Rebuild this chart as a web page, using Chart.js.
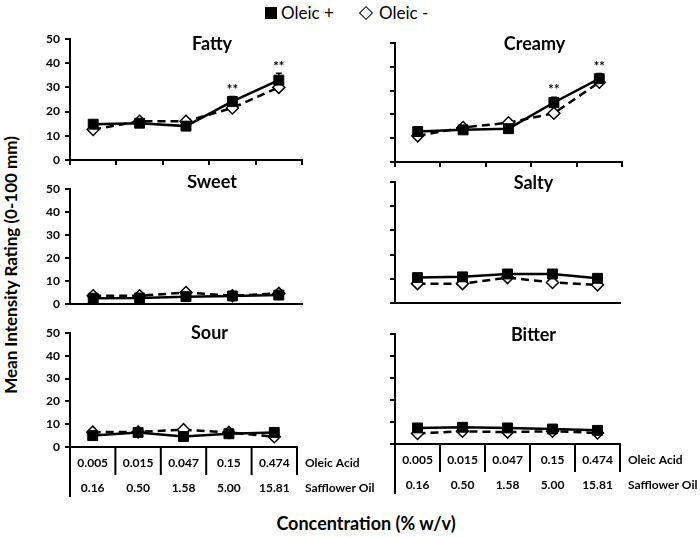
<!DOCTYPE html>
<html><head><meta charset="utf-8">
<script src="https://cdn.jsdelivr.net/npm/chart.js@4.4.1/dist/chart.umd.min.js"></script>
<style>
html,body{margin:0;padding:0;background:#fff;}
body{width:700px;height:538px;position:relative;overflow:hidden;font-family:Lato,"Open Sans",sans-serif;color:#000;}
canvas{position:absolute;}
.t{position:absolute;white-space:nowrap;color:#000;line-height:1;}
</style></head><body>
<div style="position:absolute;left:265px;top:7px;width:12px;height:12px;background:#000;"></div>
<div class="t" style="left:281px;top:4px;font-size:17px;">Oleic +</div>
<div style="position:absolute;left:361px;top:8px;width:8px;height:8px;border:1.5px solid #000;background:#fff;transform:rotate(45deg);"></div>
<div class="t" style="left:379px;top:4px;font-size:17px;">Oleic -</div>
<div class="t" style="left:10px;top:265px;font-size:17px;font-weight:bold;transform:translate(-50%,-50%) rotate(-90deg);">Mean Intensity Rating (0-100 mm)</div>
<div class="t" style="left:366px;top:523px;font-size:18px;font-weight:bold;transform:translate(-50%,-50%);">Concentration (% w/v)</div>
<script>
// ---- data ----
const oleicAcid = ['0.005', '0.015', '0.047', '0.15', '0.474'];
const safflowerOil = ['0.16', '0.50', '1.58', '5.00', '15.81'];
const rowLabels = ['Oleic Acid', 'Safflower Oil'];
const panelTitles = ['Fatty', 'Creamy', 'Sweet', 'Salty', 'Sour', 'Bitter'];
const seriesNames = ['Oleic +', 'Oleic -'];

const fattyPlus   = [14.8, 15.2, 14.0, 24.2, 33.0];
const fattyMinus  = [12.6, 16.0, 16.0, 21.5, 30.0];
const creamyPlus  = [12.8, 13.5, 14.0, 25.0, 35.0];
const creamyMinus = [11.0, 14.5, 16.5, 20.5, 33.5];
const sweetPlus   = [2.5, 2.6, 3.2, 3.5, 3.9];
const sweetMinus  = [3.6, 3.6, 5.0, 3.6, 4.6];
const saltyPlus   = [10.5, 10.8, 12.0, 12.0, 10.2];
const saltyMinus  = [8.0, 8.0, 10.5, 8.5, 7.5];
const sourPlus    = [5.0, 6.4, 4.6, 5.8, 6.4];
const sourMinus   = [6.5, 6.6, 7.6, 6.4, 4.5];
const bitterPlus  = [7.3, 7.6, 7.3, 6.8, 6.2];
const bitterMinus = [4.8, 5.8, 5.4, 5.8, 5.0];

const fattyErr  = [1.2, 1.2, 1.2, 2.0, 2.8];
const creamyErr = [1.2, 1.2, 1.2, 2.2, 2.2];
const smallErr  = [0.8, 0.8, 0.8, 0.8, 0.8];

const fattySig  = ['', '', '', '**', '**'];
const creamySig = ['', '', '', '**', '**'];
const noSig     = ['', '', '', '', ''];

const yMin = 0, yMax = 50, yStep = 10;

// ---- layout (page coordinates of each plot area) ----
const plusSets  = [fattyPlus, creamyPlus, sweetPlus, saltyPlus, sourPlus, bitterPlus];
const minusSets = [fattyMinus, creamyMinus, sweetMinus, saltyMinus, sourMinus, bitterMinus];
const errSets   = [fattyErr, creamyErr, smallErr, smallErr, smallErr, smallErr];
const sigSets   = [fattySig, creamySig, noSig, noSig, noSig, noSig];

const boxes = [
  {l:70,  r:302, t:39,  b:160, row:0, ty:44},
  {l:395, r:622, t:43,  b:162, row:0, ty:44},
  {l:70,  r:302, t:189, b:304, row:1, ty:182},
  {l:395, r:620, t:182, b:303, row:1, ty:183},
  {l:70,  r:297, t:333, b:447, row:2, ty:333},
  {l:395, r:620, t:334, b:444, row:2, ty:335}
];

Chart.defaults.color = '#000';
Chart.defaults.font.family = 'Lato, "Open Sans", sans-serif';

const panelPlugin = {
  id: 'panelPlugin',
  beforeDatasetsDraw(chart) {
    const o = chart.options.plugins.panelPlugin;
    const ctx = chart.ctx, xs = chart.scales.x, ys = chart.scales.y;
    ctx.save();
    ctx.strokeStyle = '#000'; ctx.lineWidth = 1.5;
    o.plus.forEach((v, i) => {
      const px = xs.getPixelForValue(i);
      const y1 = ys.getPixelForValue(v + o.err[i]);
      const y2 = ys.getPixelForValue(v - o.err[i]);
      ctx.beginPath();
      ctx.moveTo(px, y1); ctx.lineTo(px, y2);
      ctx.moveTo(px - 3, y1); ctx.lineTo(px + 3, y1);
      ctx.stroke();
    });
    ctx.restore();
  },
  afterDraw(chart) {
    const o = chart.options.plugins.panelPlugin;
    const ctx = chart.ctx, xs = chart.scales.x, ys = chart.scales.y;
    const ca = chart.chartArea;
    ctx.save();
    ctx.fillStyle = '#000';
    ctx.font = 'bold 18px Lato, "Open Sans", sans-serif';
    ctx.textAlign = 'center'; ctx.textBaseline = 'middle';
    ctx.fillText(o.title, (ca.left + ca.right) / 2 + 26, o.titleY);
    ctx.font = 'bold 13px Lato, "Open Sans", sans-serif';
    o.sig.forEach((s, i) => {
      if (!s) return;
      const px = xs.getPixelForValue(i);
      const py = ys.getPixelForValue(o.plus[i] + o.err[i]) - 7;
      ctx.fillText(s, px, py);
    });
    if (o.table) {
      const y0 = xs.top;
      ctx.strokeStyle = '#000'; ctx.lineWidth = 2;
      ctx.beginPath();
      ctx.moveTo(xs.getPixelForValue(-0.5), y0);
      ctx.lineTo(xs.getPixelForValue(-0.5), y0 + 50);
      for (let i = 1; i <= oleicAcid.length; i++) {
        const px = xs.getPixelForValue(i - 0.5);
        ctx.moveTo(px, y0); ctx.lineTo(px, y0 + 28);
      }
      ctx.stroke();
      ctx.font = 'bold 12px Lato, "Open Sans", sans-serif';
      ctx.textAlign = 'left';
      ctx.fillText(rowLabels[0], xs.right + 8, y0 + 16);
      ctx.fillText(rowLabels[1], xs.right + 8, y0 + 41);
    }
    ctx.restore();
  }
};

boxes.forEach((bx, k) => {
  const yW = 50;
  const xH = bx.row === 2 ? 62 : 16;
  const padTop = 14;
  const cLeft = bx.l - yW;
  const cRight = bx.l < 350 ? 395 : 700;
  const cTop = bx.t - padTop;
  const cH = bx.b + xH - cTop;
  const cv = document.createElement('canvas');
  cv.width = cRight - cLeft; cv.height = cH;
  cv.style.left = cLeft + 'px'; cv.style.top = cTop + 'px';
  cv.style.width = (cRight - cLeft) + 'px'; cv.style.height = cH + 'px';
  document.body.appendChild(cv);
  const isLeft = bx.l < 350;
  const labels = oleicAcid.map((o, i) => [o, safflowerOil[i]]);
  new Chart(cv, {
    type: 'line',
    data: {
      labels: labels,
      datasets: [
        { label: seriesNames[0], data: plusSets[k], borderColor: '#000', backgroundColor: '#000',
          borderWidth: 2.5, pointStyle: 'rect', pointRadius: 7, pointBorderWidth: 1, tension: 0 },
        { label: seriesNames[1], data: minusSets[k], borderColor: '#000', backgroundColor: '#fff',
          borderWidth: 2.5, borderDash: [8, 5], pointStyle: 'rectRot', pointRadius: 6,
          pointBorderWidth: 1.5, tension: 0 }
      ]
    },
    options: {
      responsive: false, animation: false, devicePixelRatio: 1,
      layout: { padding: { top: padTop, right: cRight - bx.r, left: 0, bottom: 0 } },
      plugins: {
        legend: { display: false }, tooltip: { enabled: false }, title: { display: false },
        panelPlugin: { title: panelTitles[k], titleY: bx.ty - cTop, plus: plusSets[k], err: errSets[k],
                       sig: sigSets[k], table: bx.row === 2 }
      },
      scales: {
        x: {
          type: 'category', offset: true,
          afterFit: s => { s.height = xH; },
          border: { display: true, color: '#000', width: 2 },
          grid: { display: true, offset: true, drawOnChartArea: false, drawTicks: bx.row === 0,
                  tickLength: 5, color: '#000', lineWidth: 2 },
          ticks: { display: bx.row === 2, autoSkip: false, maxRotation: 0, minRotation: 0, padding: 3.5,
                   font: { size: 12, weight: 'bold', lineHeight: '25px' } }
        },
        y: {
          min: yMin, max: yMax,
          afterFit: s => { s.width = yW; },
          border: { display: true, color: '#000', width: 2 },
          grid: { display: true, drawOnChartArea: false, drawTicks: true, tickLength: 5, color: '#000', lineWidth: 2 },
          ticks: { display: isLeft, stepSize: yStep, padding: 5, font: { size: 12, weight: 'bold' } }
        }
      }
    },
    plugins: [panelPlugin]
  });
});
</script>
</body></html>
